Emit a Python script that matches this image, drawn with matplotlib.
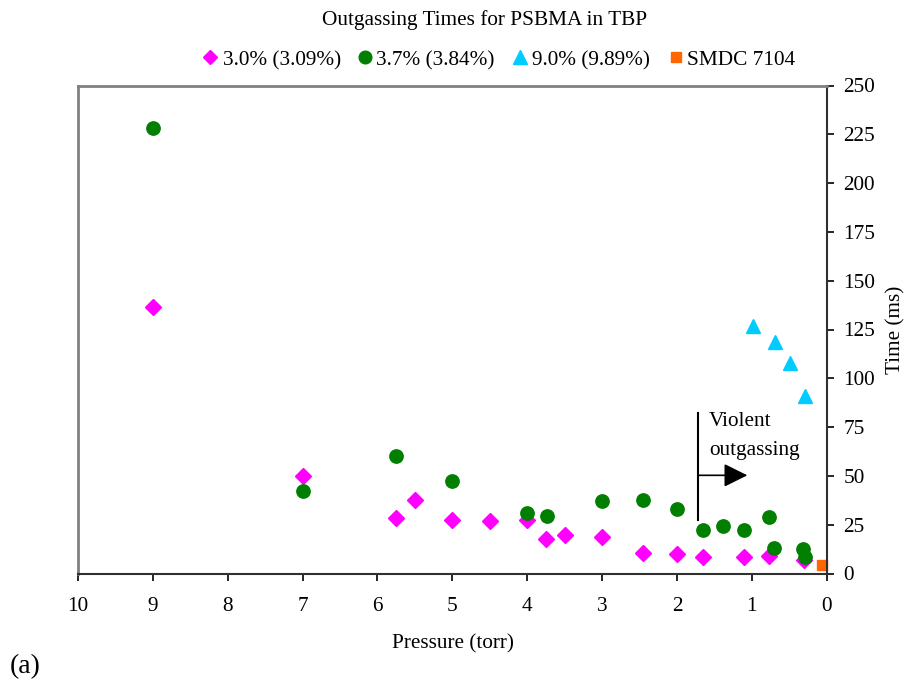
import matplotlib
matplotlib.use("Agg")
import matplotlib.pyplot as plt
from matplotlib.lines import Line2D

plt.rcParams['font.family'] = ['Liberation Serif', 'DejaVu Serif']

p30 = [9.0, 7.0, 5.75, 5.5, 5.0, 4.5, 4.0, 3.75, 3.5, 3.0, 2.46, 2.0, 1.65, 1.11, 0.77, 0.30]
t30 = [136.5, 49.8, 28.6, 37.8, 27.6, 26.7, 27.6, 17.8, 19.5, 18.6, 10.4, 10.1, 8.7, 8.7, 9.2, 6.7]

p37 = [9.0, 7.0, 5.75, 5.0, 4.0, 3.73, 3.0, 2.46, 2.0, 1.65, 1.39, 1.11, 0.77, 0.70, 0.32, 0.29]
t37 = [228.4, 42.1, 60.1, 47.4, 31.2, 29.3, 37.1, 37.5, 33.2, 22.1, 24.3, 22.4, 28.9, 13.2, 12.7, 8.7]

p90 = [0.99, 0.69, 0.49, 0.29]
t90 = [126.8, 118.7, 108.0, 90.9]

psmdc = [0.06]
tsmdc = [4.6]

labels = ['3.0% (3.09%)', '3.7% (3.84%)', '9.0% (9.89%)', 'SMDC 7104']
xticks = list(range(0, 11))
yticks = list(range(0, 251, 25))

FS = 15.3
W, H = 923, 683

fig = plt.figure(figsize=(W / 100, H / 100), dpi=100)
ax = fig.add_axes([78 / W, (H - 573.5) / H, (826.7 - 78) / W, (573.5 - 85.5) / H])

ax.plot(p30, t30, ls='none', marker='D', ms=8.2, color='#ff00ff', mec='#ff00ff', clip_on=False)
ax.plot(p37, t37, ls='none', marker='o', ms=9.6, color='#007f00', mec='#007f00', clip_on=False)
ax.plot(p90, t90, ls='none', marker='^', ms=10.2, color='#00ccff', mec='#00ccff', clip_on=False)
ax.plot(psmdc, tsmdc, ls='none', marker='s', ms=7.4, color='#ff6600', mec='#ff6600', clip_on=False)

ax.set_xlim(10, 0)
ax.set_ylim(0, 250)
ax.set_xticks(xticks)
ax.set_yticks(yticks)
ax.yaxis.tick_right()
ax.tick_params(axis='both', direction='out', length=5, width=1.2, color='black', labelsize=FS)
ax.tick_params(axis='y', pad=7)
ax.tick_params(axis='x', pad=12)

for s in ['top', 'left']:
    ax.spines[s].set_color('#808080')
    ax.spines[s].set_linewidth(2.0)
for s in ['bottom', 'right']:
    ax.spines[s].set_color('#303030')
    ax.spines[s].set_linewidth(1.5)

fig.text(452.5 / W, (H - 648) / H, 'Pressure (torr)', fontsize=FS, ha='center', va='baseline')
fig.text(896 / W, (H - 329.5) / H, 'Time (ms)', fontsize=FS, ha='center', va='center', rotation=90)

# annotation: violent outgassing
ax.plot([1.72, 1.72], [27.2, 82.0], color='black', lw=1.5)
ax.annotate('', xy=(1.06, 50.3), xytext=(1.72, 50.3),
            arrowprops=dict(arrowstyle='-|>,head_length=1.45,head_width=0.72', mutation_scale=10,
                            color='black', lw=1.2, shrinkA=0, shrinkB=0))
ax.text(1.575, 75.5, 'Violent', fontsize=FS, ha='left', va='baseline')
ax.text(1.575, 60.6, 'outgassing', fontsize=FS, ha='left', va='baseline')

fig.text(322 / W, (H - 25) / H, 'Outgassing Times for PSBMA in TBP', ha='left', va='baseline', fontsize=FS)

# legend (manual layout)
leg_markers = [('D', 7.0, '#ff00ff'), ('o', 9.1, '#007f00'), ('^', 9.6, '#00ccff'), ('s', 7.2, '#ff6600')]
leg_marker_x = [210, 365, 520, 676]
leg_text_x = [223, 376, 532, 687]
for (m, ms, c), mx, tx, lab in zip(leg_markers, leg_marker_x, leg_text_x, labels):
    fig.add_artist(Line2D([mx / W], [(H - 57) / H], ls='none', marker=m, ms=ms, color=c,
                          transform=fig.transFigure))
    fig.text(tx / W, (H - 65) / H, lab, fontsize=FS, ha='left', va='baseline')

fig.text(10 / W, (H - 673) / H, '(a)', fontsize=20, ha='left', va='baseline')

fig.savefig('out.png', dpi=100)
